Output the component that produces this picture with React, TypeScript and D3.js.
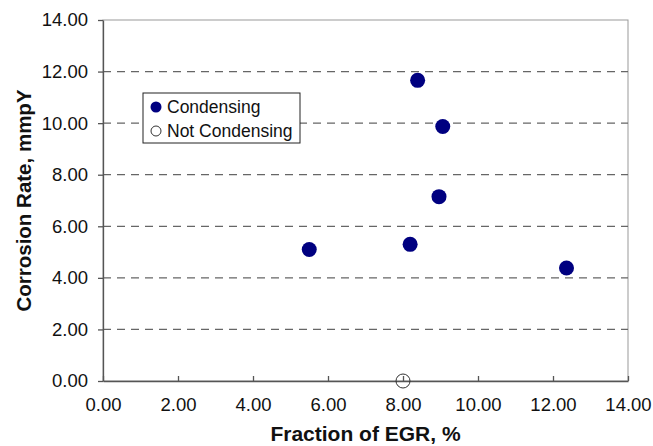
import React, { useEffect, useRef } from 'react';
import * as d3 from 'd3';

// Condensing points (EGR fraction %, corrosion rate mmpY)
const condensingEgr = [5.5, 8.19, 8.39, 8.96, 9.06, 12.36];
const condensingRate = [5.1, 5.3, 11.66, 7.15, 9.87, 4.38];

// Not condensing points
const notCondensingEgr = [8.0];
const notCondensingRate = [0.0];

const xTicks = [0, 2, 4, 6, 8, 10, 12, 14];
const yTicks = [0, 2, 4, 6, 8, 10, 12, 14];
const gridValues = [2, 4, 6, 8, 10, 12];

const legendLabels = ['Condensing', 'Not Condensing'];

const App = () => {
  const chartRef = useRef<SVGSVGElement>(null);

  useEffect(() => {
    const width = 653;
    const height = 446;
    const margin = { top: 20, right: 25, bottom: 65, left: 103 };
    const innerW = width - margin.left - margin.right;
    const innerH = height - margin.top - margin.bottom;
    const font = 'Arial, "Liberation Sans", sans-serif';

    const svg = d3.select(chartRef.current);
    svg.selectAll('*').remove();

    const g = svg.append('g').attr('transform', `translate(${margin.left},${margin.top})`);

    const x = d3.scaleLinear().domain([0, 14]).range([0, innerW]);
    const y = d3.scaleLinear().domain([0, 14]).range([innerH, 0]);

    // plot area frame (light gray top/right)
    g.append('rect')
      .attr('x', 0)
      .attr('y', 0)
      .attr('width', innerW)
      .attr('height', innerH)
      .attr('fill', 'none')
      .attr('stroke', '#999')
      .attr('stroke-width', 1);

    // dashed gridlines
    g.selectAll('.grid')
      .data(gridValues)
      .enter()
      .append('line')
      .attr('x1', 0)
      .attr('x2', innerW)
      .attr('y1', (d) => y(d))
      .attr('y2', (d) => y(d))
      .attr('stroke', '#666')
      .attr('stroke-width', 1.3)
      .attr('stroke-dasharray', '8,6');

    // axes
    const xAxis = g
      .append('g')
      .attr('transform', `translate(0,${innerH})`)
      .call(
        d3
          .axisBottom(x)
          .tickValues(xTicks)
          .tickFormat((d) => d3.format('.2f')(d as number))
          .tickSizeInner(5)
          .tickSizeOuter(0)
      );
    const yAxis = g.append('g').call(
      d3
        .axisLeft(y)
        .tickValues(yTicks)
        .tickFormat((d) => d3.format('.2f')(d as number))
        .tickSizeInner(5)
        .tickSizeOuter(0)
    );
    [xAxis, yAxis].forEach((ax) => {
      ax.attr('font-size', null).attr('font-family', null);
      ax.select('.domain').attr('stroke', '#555').attr('stroke-width', 1.3);
      ax.selectAll('.tick line').attr('stroke', '#555').attr('stroke-width', 1.3);
      ax.selectAll('.tick text')
        .attr('font-family', font)
        .attr('font-size', 18.5)
        .attr('fill', '#111');
    });
    xAxis.selectAll('.tick line').attr('y1', -5).attr('y2', 0);
    xAxis.selectAll('.tick text').attr('y', 30).attr('dy', 0);
    yAxis.selectAll('.tick text').attr('x', -15);

    // axis titles
    svg
      .append('text')
      .attr('x', margin.left + innerW / 2)
      .attr('y', 441)
      .attr('text-anchor', 'middle')
      .attr('font-family', font)
      .attr('font-weight', 'bold')
      .attr('font-size', 21)
      .attr('fill', '#111')
      .text('Fraction of EGR, %');

    svg
      .append('text')
      .attr('transform', `translate(31,${margin.top + innerH / 2}) rotate(-90)`)
      .attr('text-anchor', 'middle')
      .attr('font-family', font)
      .attr('font-weight', 'bold')
      .attr('font-size', 20.5)
      .attr('fill', '#111')
      .text('Corrosion Rate, mmpY');

    // points
    g.selectAll('.cond')
      .data(d3.range(condensingEgr.length))
      .enter()
      .append('circle')
      .attr('cx', (i) => x(condensingEgr[i]))
      .attr('cy', (i) => y(condensingRate[i]))
      .attr('r', 7.5)
      .attr('fill', '#000080');

    g.selectAll('.notcond')
      .data(d3.range(notCondensingEgr.length))
      .enter()
      .append('circle')
      .attr('cx', (i) => x(notCondensingEgr[i]))
      .attr('cy', (i) => y(notCondensingRate[i]))
      .attr('r', 7)
      .attr('fill', 'none')
      .attr('stroke', '#333')
      .attr('stroke-width', 1);

    // legend
    const lg = svg.append('g').attr('transform', 'translate(143,93)');
    lg.append('rect')
      .attr('width', 157)
      .attr('height', 50)
      .attr('fill', 'white')
      .attr('stroke', '#222')
      .attr('stroke-width', 1);
    legendLabels.forEach((label, i) => {
      const cy = 14 + i * 24;
      lg.append('circle')
        .attr('cx', 13)
        .attr('cy', cy)
        .attr('r', i === 0 ? 5.5 : 5)
        .attr('fill', i === 0 ? '#000080' : 'none')
        .attr('stroke', i === 0 ? 'none' : '#333');
      lg.append('text')
        .attr('x', 24)
        .attr('y', cy + 6)
        .attr('font-family', font)
        .attr('font-size', 17.5)
        .attr('fill', '#111')
        .text(label);
    });
  }, []);

  return (
    <svg
      ref={chartRef}
      width={653}
      height={446}
      style={{ position: 'absolute', left: 0, top: 0, background: 'white' }}
    />
  );
};

export default App;
